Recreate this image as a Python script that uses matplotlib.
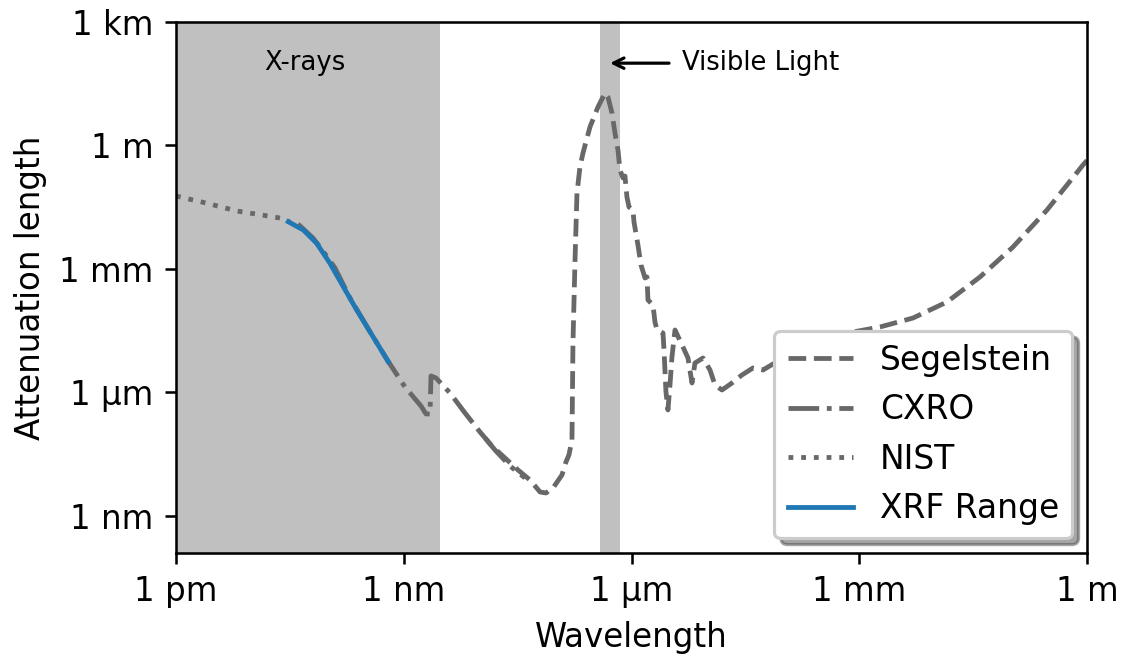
import numpy as np
import matplotlib
matplotlib.use("Agg")
import matplotlib.pyplot as plt

# values, stored as log10 of metres
nist_wl = [-12.0, -11.605, -11.197, -10.867, -10.630, -10.498]
nist_len = [-1.227, -1.397, -1.592, -1.689, -1.762, -1.859]

cxro_wl = [-10.393, -10.195, -10.064, -9.906, -9.708, -9.445, -9.208, -8.984,
           -8.773, -8.707, -8.654, -8.641, -8.575, -8.391, -8.193, -7.996,
           -7.798, -7.601, -7.403]
cxro_len = [-1.907, -2.248, -2.563, -2.976, -3.705, -4.523, -5.235, -5.867,
            -6.328, -6.522, -6.522, -5.599, -5.648, -6.012, -6.498, -6.960,
            -7.397, -7.786, -8.077]

xrf_wl = [-10.521, -10.323, -10.147, -9.972, -9.796, -9.620, -9.445, -9.204]
xrf_len = [-1.852, -2.053, -2.376, -2.862, -3.430, -3.996, -4.523, -5.252]

seg_wl = [-7.996, -7.838, -7.667, -7.495, -7.337, -7.205, -7.126, -7.034,
          -6.916, -6.863, -6.824, -6.784, -6.771, -6.744, -6.718, -6.679,
          -6.639, -6.547, -6.442, -6.349, -6.310, -6.257, -6.218, -6.178,
          -6.152, -6.112, -6.086, -6.060, -6.033, -5.981, -5.967, -5.915,
          -5.875, -5.822, -5.796, -5.783, -5.717, -5.691, -5.664, -5.585,
          -5.572, -5.546, -5.520, -5.493, -5.467, -5.427, -5.322, -5.256,
          -5.203, -5.164, -5.058, -4.966, -4.900, -4.808, -4.676, -4.545,
          -4.400, -4.268, -4.136, -3.781, -3.386, -3.083, -2.727, -2.292,
          -1.845, -1.410, -0.975, -0.527, -0.053, 0.039]
seg_len = [-6.960, -7.300, -7.591, -7.883, -8.126, -8.417, -8.441, -8.320,
           -8.004, -7.688, -7.518, -7.154, -4.798, -2.782, -1.155, -0.523,
           -0.183, 0.449, 0.934, 1.274, 1.177, 0.789, 0.303, -0.110,
           -0.596, -0.790, -0.742, -1.252, -1.495, -1.567, -1.859, -2.418,
           -2.903, -3.219, -3.195, -3.753, -3.875, -4.288, -4.482, -4.555,
           -4.968, -5.988, -6.425, -5.818, -5.138, -4.482, -4.895, -5.162,
           -5.769, -5.284, -5.162, -5.454, -5.818, -5.940, -5.769, -5.575,
           -5.405, -5.454, -5.308, -5.017, -4.725, -4.531, -4.409, -4.191,
           -3.802, -3.195, -2.466, -1.567, -0.474, -0.280]

xray_band = (1e-12, 3e-9)
visible_band = (3.8e-7, 7.05e-7)

x_ticks = [1e-12, 1e-9, 1e-6, 1e-3, 1]
x_labels = ['1 pm', '1 nm', '1 µm', '1 mm', '1 m']
y_ticks = [1e-9, 1e-6, 1e-3, 1, 1e3]
y_labels = ['1 nm', '1 µm', '1 mm', '1 m', '1 km']

def p(a):
    return 10 ** np.array(a)

grey = '#686868'
plt.rcParams['font.size'] = 10.2

fig = plt.figure(figsize=(1123 / 230, 660 / 230), dpi=230)
ax = fig.add_axes([176 / 1123, 1 - 553 / 660, 911 / 1123, 531 / 660])

ax.axvspan(*xray_band, color='silver', lw=0)
ax.axvspan(*visible_band, color='silver', lw=0)

ax.plot(p(seg_wl), p(seg_len), '--', color=grey, label='Segelstein')
ax.plot(p(cxro_wl), p(cxro_len), '-.', color=grey, label='CXRO')
ax.plot(p(nist_wl), p(nist_len), ':', color=grey, label='NIST')
ax.plot(p(xrf_wl), p(xrf_len), '-', color='tab:blue', label='XRF Range')

ax.set_xscale('log')
ax.set_yscale('log')
ax.set_xlim(1e-12, 1)
ax.set_ylim(1.26e-10, 1e3)
ax.set_xticks(x_ticks)
ax.set_xticklabels(x_labels)
ax.set_yticks(y_ticks)
ax.set_yticklabels(y_labels)
ax.minorticks_off()

ax.text(5e-11, 100, 'X-rays', ha='center', va='center', fontsize=8.1)
ax.annotate('Visible Light', xy=(4.3e-7, 100), xytext=(4.6e-6, 100),
            ha='left', va='center', fontsize=8.1,
            arrowprops=dict(arrowstyle='->', color='k'))

ax.set_xlabel('Wavelength')
ax.set_ylabel('Attenuation length')
ax.legend(loc='lower right', shadow=True, fontsize=10.3, borderaxespad=0.45)

fig.savefig('out.png', dpi=230)
